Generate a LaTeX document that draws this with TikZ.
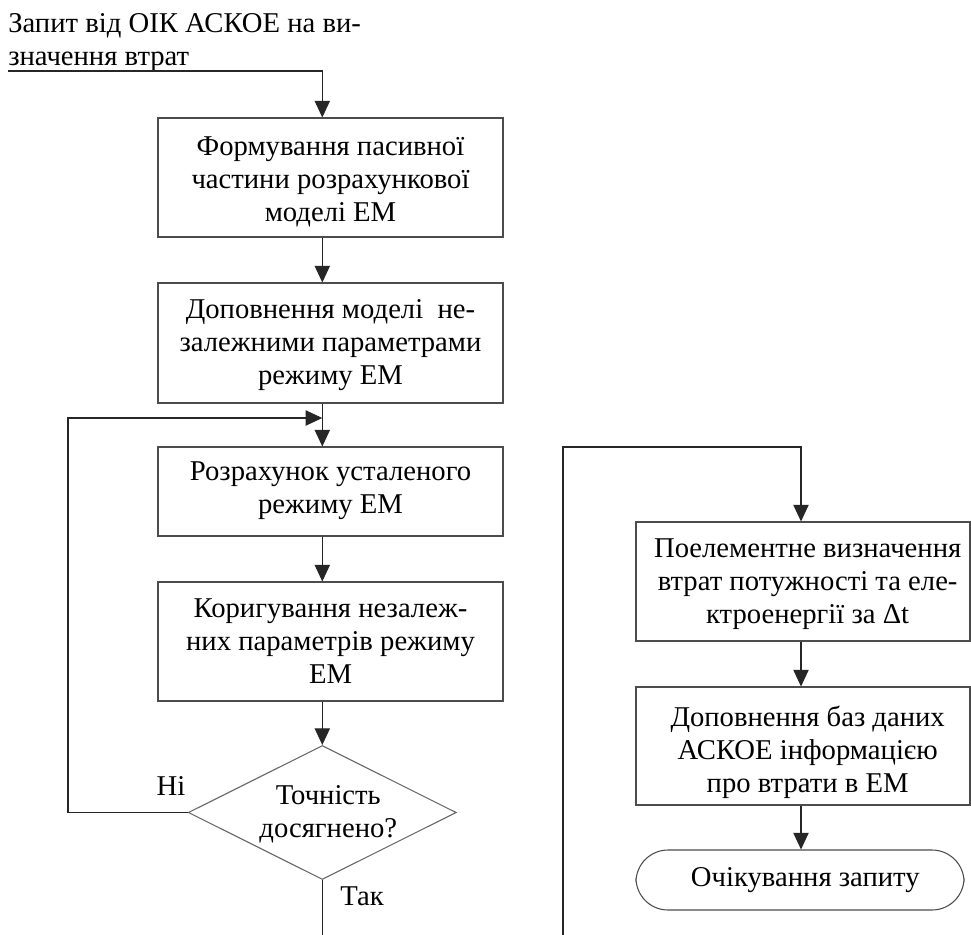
\documentclass[tikz,border=0pt]{standalone}
\usepackage{fontspec}
\setmainfont{Liberation Serif}
\usetikzlibrary{arrows.meta,shapes.geometric}
\begin{document}
\begin{tikzpicture}[x=0.75pt,y=-0.75pt,
  txt/.style={font=\fontsize{21.5}{24.75}\selectfont},
  shapeline/.style={draw=black!70,line width=0.8pt},
  box/.style={shapeline,rectangle,inner sep=0pt},
  lbl/.style={txt,align=center,inner sep=0pt},
  dec/.style={draw=black!60,line width=0.8pt,diamond,aspect=2,inner sep=0pt,minimum width=201pt,minimum height=100.5pt},
  term/.style={shapeline,rectangle,rounded corners=24pt,inner sep=0pt},
  conn/.style={line width=0.8pt,draw=black!85},
  arr/.style={conn,-{Triangle[length=12.5pt,width=11.5pt]}}
]
\useasboundingbox (0,0) rectangle (971,935);
\fill[white] (0,0) rectangle (971,935);

% top request text
\node[txt,anchor=north west,align=left,inner sep=0pt] (req) at (8,13) {Запит від ОІК АСКОЕ на ви-\\значення втрат};
\coordinate (u0) at (8,71);
\coordinate (ax) at (322.3,0);
\coordinate (rx) at (801,0);

% left column
\node[box,minimum width=258.75pt,minimum height=89.25pt,
  label={[lbl,yshift=-3pt]center:Формування пасивної\\частини розрахункової\\моделі ЕМ}] (b1) at (330.5,177.5) {};
\node[box,minimum width=258.75pt,minimum height=90pt,
  label={[lbl,yshift=-1.5pt]center:Доповнення моделі\ \ не-\\залежними параметрами\\режиму ЕМ}] (b2) at (330.5,343) {};
\node[box,minimum width=258.75pt,minimum height=66.75pt,
  label={[lbl,yshift=0.5pt]center:Розрахунок усталеного\\режиму ЕМ}] (b3) at (330.5,491.5) {};
\node[box,minimum width=258.75pt,minimum height=89.25pt,
  label={[lbl]center:Коригування незалеж-\\них параметрів режиму\\ЕМ}] (b4) at (330.5,641.5) {};
\node[dec,label={[lbl,xshift=4.5pt,yshift=-1pt]center:Точність\\досягнено?}] (d) at (322.3,812.5) {};

\node[txt,inner sep=0pt] (no) at (171,786) {Ні};
\node[txt,inner sep=0pt] (yes) at (362,896) {Так};

% right column
\node[box,minimum width=250.5pt,minimum height=89.25pt,
  label={[lbl,xshift=3.5pt,yshift=-2.25pt]center:Поелементне визначення\\втрат потужності та еле-\\ктроенергії за Δt}] (b5) at (803,581.5) {};
\node[box,minimum width=250.5pt,minimum height=88.5pt,
  label={[lbl,xshift=3.5pt,yshift=-5pt]center:Доповнення баз даних\\АСКОЕ інформацією\\про втрати в ЕМ}] (b6) at (803,746) {};
\node[term,minimum width=246pt,minimum height=45pt,
  label={[lbl,xshift=4pt]center:Очікування запиту}] (t) at (800,880) {};

% helper coordinates
\coordinate (fb) at (322.3,418);
\coordinate (lx) at (68,0);
\coordinate (bot) at (0,935);
\coordinate (rb) at (563,935);
\coordinate (rt) at (563,447);

% connectors
\draw[arr] (u0) -| (b1.north -| ax);
\draw[arr] (b1.south -| ax) -- (b2.north -| ax);
\draw[arr] (b2.south -| ax) -- (b3.north -| ax);
\draw[arr] (b3.south -| ax) -- (b4.north -| ax);
\draw[arr] (b4.south -| ax) -- (d.north);
\draw[arr] (d.west) -- (d.west -| lx) -- (lx |- fb) -- (fb);
\draw[conn] (d.south) -- (d.south |- bot);
\draw[arr] (rb) -- (rt) -- (rt -| rx) -- (b5.north -| rx);
\draw[arr] (b5.south -| rx) -- (b6.north -| rx);
\draw[arr] (b6.south -| rx) -- (t.north -| rx);
\end{tikzpicture}
\end{document}
